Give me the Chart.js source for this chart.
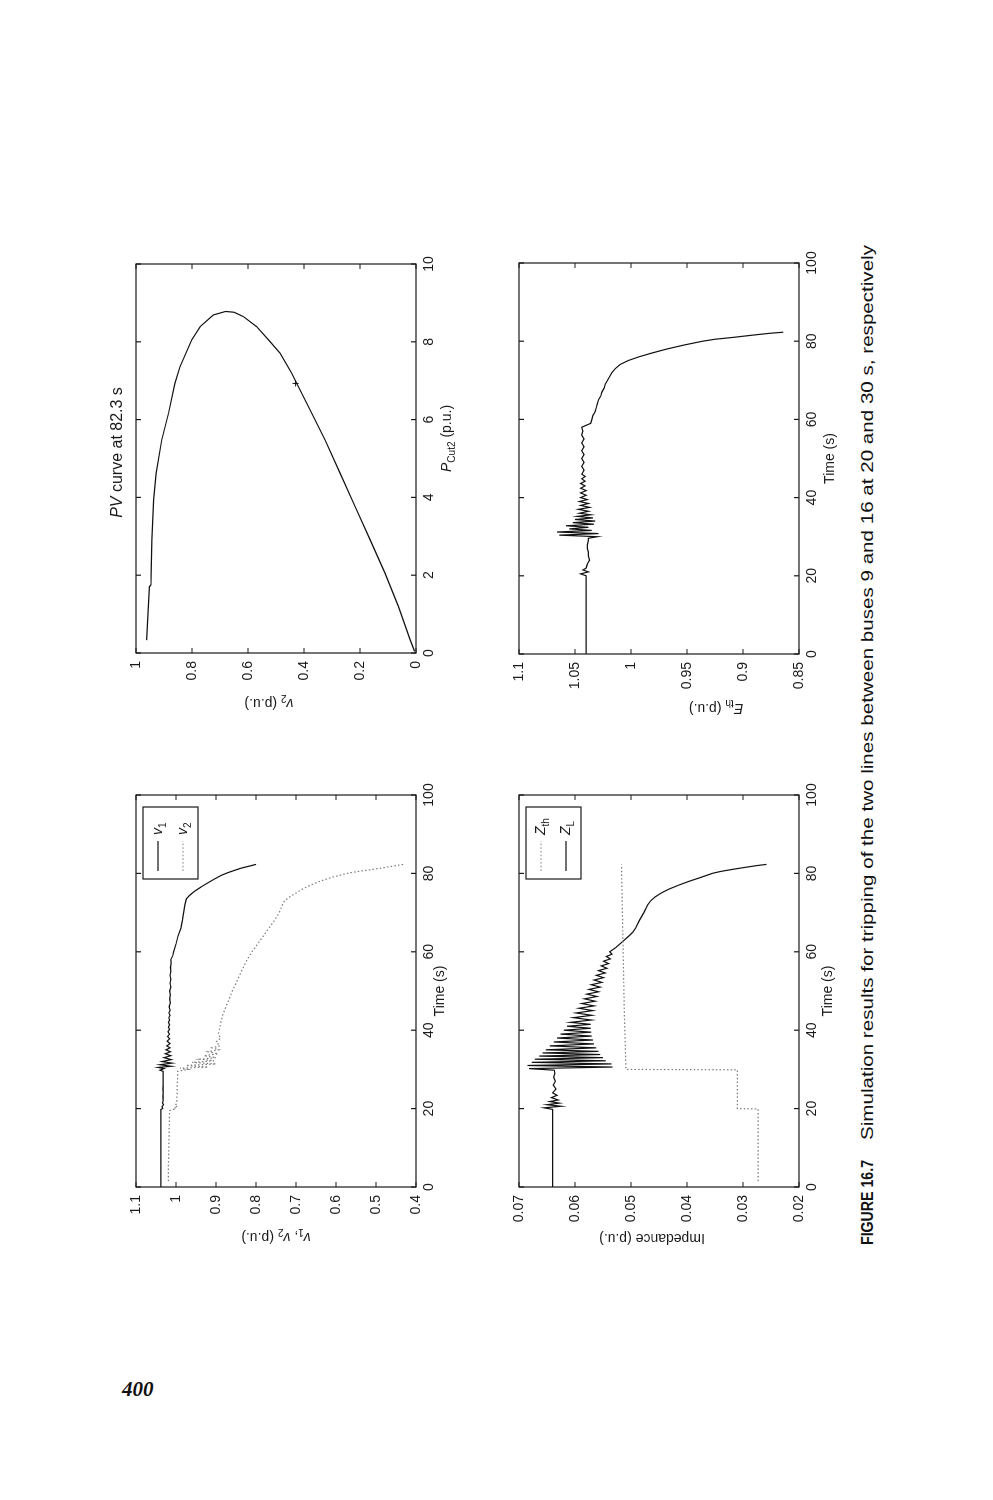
<!DOCTYPE html>
<html>
<head>
<meta charset="utf-8">
<script src="https://cdn.jsdelivr.net/npm/chart.js@4.4.0/dist/chart.umd.min.js"></script>
<style>
  html, body { margin: 0; padding: 0; background: #fff; width: 993px; height: 1500px; overflow: hidden; }
  /* the printed page is turned a quarter turn, so everything is laid out upright and then rotated */
  #page { position: absolute; left: 0; top: 0; width: 1500px; height: 993px;
          transform-origin: 0 0; transform: translate(0, 1500px) rotate(-90deg); }
  .plot { position: absolute; }
  .cap { position: absolute; top: 859px; white-space: nowrap; font-size: 17px; line-height: 17px; color: #111;
         font-family: "Liberation Sans", Arial, sans-serif; transform-origin: 0 50%; }
  #capLabel { left: 255px; font-weight: bold; }
  #capText { left: 360px; }
  #pageno { position: absolute; left: 122px; top: 1377px; font: italic bold 21px "Liberation Serif", serif; color: #111; }
</style>
</head>
<body>
<div id="page">
  <canvas id="chartV" class="plot" width="482" height="360" style="left:243px; top:106px"></canvas>
  <canvas id="chartPV" class="plot" width="479" height="360" style="left:777px; top:106px"></canvas>
  <canvas id="chartZ" class="plot" width="482" height="360" style="left:243px; top:489px"></canvas>
  <canvas id="chartE" class="plot" width="481" height="360" style="left:776px; top:489px"></canvas>
  <span id="capLabel" class="cap">FIGURE 16.7</span>
  <span id="capText" class="cap">Simulation results for tripping of the two lines between buses 9 and 16 at 20 and 30 s, respectively</span>
</div>
<div id="pageno">400</div>

<script>
// ---- data ----
// v1 and v2 against time
const v1Time = [0, 19.8, 20, 20.5, 21, 21.5, 22, 23, 24, 25,
  26, 28, 29.5, 29.8, 30.2, 30.5, 30.8, 31.2, 31.6, 32,
  32.5, 33, 33.5, 34, 34.5, 35, 35.5, 36, 36.6, 37.2,
  37.8, 38.4, 39, 39.6, 40.2, 40.8, 41.4, 42, 42.6, 43.2,
  43.8, 44.4, 45, 46, 47, 48, 49, 50, 51, 52,
  53, 54, 55, 56, 57, 58, 59, 60, 62, 64,
  66, 68, 70, 72, 73.5, 74.5, 75.5, 76.5, 77.5, 78.5,
  79.5, 80.2, 80.8, 81.4, 81.9, 82.3];
const v1Vals = [1.038, 1.038, 1.033, 1.035, 1.031, 1.034, 1.032, 1.033, 1.032, 1.033,
  1.032, 1.032, 1.032, 1.040, 1.030, 1.045, 1.012, 1.040, 1.010, 1.035,
  1.012, 1.030, 1.013, 1.027, 1.014, 1.025, 1.015, 1.023, 1.015, 1.022,
  1.016, 1.021, 1.016, 1.020, 1.016, 1.019, 1.016, 1.019, 1.016, 1.018,
  1.015, 1.018, 1.015, 1.017, 1.014, 1.016, 1.014, 1.016, 1.013, 1.015,
  1.013, 1.015, 1.013, 1.014, 1.012, 1.013, 1.008, 1.006, 1.000, 0.995,
  0.988, 0.984, 0.981, 0.978, 0.974, 0.965, 0.953, 0.938, 0.922, 0.905,
  0.887, 0.870, 0.853, 0.835, 0.815, 0.800];

const v2Time = [1.5, 5, 10, 15, 19.5, 20, 20.3, 20.6, 21, 22,
  24, 26, 28, 29.5, 30, 30.3, 30.6, 31, 31.4, 31.8,
  32.2, 32.6, 33, 33.5, 34, 34.5, 35, 35.5, 36, 37,
  38, 39, 40, 42, 44, 46, 48, 50, 52, 54,
  56, 58, 60, 62, 64, 66, 68, 70, 72, 73,
  74, 75, 76, 77, 78, 79, 80, 80.5, 81, 81.5,
  82, 82.3];
const v2Vals = [1.019, 1.019, 1.018, 1.017, 1.016, 1.000, 1.005, 0.996, 1.000, 0.998,
  0.997, 0.997, 0.996, 0.996, 0.970, 0.990, 0.920, 0.975, 0.900, 0.960,
  0.905, 0.940, 0.900, 0.930, 0.895, 0.920, 0.893, 0.910, 0.890, 0.900,
  0.888, 0.894, 0.892, 0.888, 0.883, 0.875, 0.867, 0.859, 0.850, 0.841,
  0.832, 0.822, 0.810, 0.796, 0.782, 0.768, 0.754, 0.742, 0.734, 0.729,
  0.716, 0.700, 0.684, 0.664, 0.640, 0.610, 0.573, 0.545, 0.510, 0.478,
  0.450, 0.432];

// PV curve at 82.3 s
const pvP = [0.33, 1.70, 1.75, 2.91, 3.94, 4.62, 5.48, 6.16, 6.93, 7.36,
  8.05, 8.39, 8.69, 8.78, 8.76, 8.65, 8.39, 8.05, 7.71, 7.19,
  6.93, 6.33, 5.48, 4.62, 3.77, 2.91, 2.06, 1.20, 0.34, 0.04];
const pvV = [0.962, 0.952, 0.947, 0.943, 0.937, 0.928, 0.908, 0.884, 0.861, 0.843,
  0.801, 0.771, 0.724, 0.680, 0.650, 0.617, 0.569, 0.527, 0.486, 0.444,
  0.426, 0.384, 0.325, 0.271, 0.218, 0.164, 0.111, 0.063, 0.021, 0.005];
const pvMarkP = [6.93];
const pvMarkV = [0.43];

// impedances
const zthTime = [1.5, 19.9, 20, 29.9, 30, 45, 60, 82.3];
const zthVals = [0.0273, 0.0273, 0.0310, 0.0310, 0.0509, 0.0512, 0.0514, 0.0517];

const zlTime = [0, 19.8, 20.2, 20.6, 21, 21.4, 21.8, 22.2, 22.8, 23.4,
  24, 25, 26, 27, 28, 29, 29.8, 30.2, 30.6, 31,
  31.4, 31.8, 32.2, 32.6, 33, 33.4, 33.8, 34.2, 34.6, 35,
  35.5, 36, 36.5, 37, 37.5, 38, 38.5, 39, 39.5, 40,
  40.5, 41, 41.5, 42, 42.6, 43.2, 43.8, 44.4, 45, 45.6,
  46.2, 46.8, 47.4, 48, 48.6, 49.2, 49.8, 50.4, 51, 51.6,
  52.2, 52.8, 53.4, 54, 54.6, 55.2, 55.8, 56.4, 57, 57.6,
  58.2, 58.8, 59.4, 60, 61, 62, 63, 64, 65, 66,
  68, 70, 72, 73, 74, 75, 76, 77, 78, 79,
  80, 80.5, 81, 81.5, 82, 82.3];
const zlVals = [0.0640, 0.0640, 0.0655, 0.0625, 0.0650, 0.0628, 0.0645, 0.0630, 0.0642, 0.0632,
  0.0640, 0.0634, 0.0639, 0.0635, 0.0638, 0.0636, 0.0637, 0.0682, 0.0533, 0.0685,
  0.0535, 0.0677, 0.0545, 0.0672, 0.0550, 0.0664, 0.0555, 0.0658, 0.0558, 0.0652,
  0.0562, 0.0645, 0.0566, 0.0638, 0.0568, 0.0632, 0.0570, 0.0626, 0.0571, 0.0620,
  0.0572, 0.0614, 0.0572, 0.0608, 0.0571, 0.0603, 0.0570, 0.0598, 0.0568, 0.0593,
  0.0566, 0.0588, 0.0564, 0.0583, 0.0561, 0.0579, 0.0558, 0.0575, 0.0555, 0.0571,
  0.0552, 0.0566, 0.0549, 0.0562, 0.0546, 0.0558, 0.0543, 0.0553, 0.0540, 0.0549,
  0.0537, 0.0544, 0.0534, 0.0538, 0.0528, 0.0520, 0.0512, 0.0504, 0.0497, 0.0492,
  0.0485, 0.0477, 0.0470, 0.0465, 0.0457, 0.0446, 0.0432, 0.0415, 0.0396, 0.0375,
  0.0355, 0.0340, 0.0320, 0.0298, 0.0275, 0.0258];

// Thevenin voltage
const ethTime = [0, 20, 20.5, 21, 21.5, 22, 23, 24, 25, 26,
  27, 28, 29, 29.6, 30, 30.4, 30.8, 31.2, 31.6, 32,
  32.4, 32.8, 33.2, 33.6, 34, 34.4, 34.8, 35.2, 35.6, 36,
  36.5, 37, 37.5, 38, 38.5, 39, 39.5, 40, 40.6, 41.2,
  41.8, 42.4, 43, 43.6, 44.2, 44.8, 45.4, 46, 47, 48,
  49, 50, 51, 52, 53, 54, 55, 56, 57, 58,
  58.5, 59, 60, 61, 62, 63, 64, 65, 66, 67,
  68, 69, 70, 71, 72, 73, 74, 75, 76, 77,
  78, 79, 80, 80.5, 81, 81.5, 82, 82.3];
const ethVals = [1.040, 1.040, 1.045, 1.038, 1.043, 1.040, 1.039, 1.037, 1.038, 1.038,
  1.039, 1.039, 1.038, 1.038, 1.030, 1.064, 1.029, 1.066, 1.035, 1.055,
  1.038, 1.058, 1.033, 1.052, 1.032, 1.050, 1.034, 1.048, 1.036, 1.046,
  1.038, 1.047, 1.037, 1.045, 1.038, 1.046, 1.039, 1.045, 1.040, 1.045,
  1.040, 1.045, 1.041, 1.045, 1.041, 1.044, 1.041, 1.044, 1.042, 1.044,
  1.042, 1.044, 1.042, 1.044, 1.042, 1.044, 1.042, 1.044, 1.043, 1.044,
  1.040, 1.036, 1.035, 1.034, 1.032, 1.031, 1.030, 1.029, 1.027, 1.026,
  1.024, 1.023, 1.021, 1.019, 1.017, 1.014, 1.010, 1.003, 0.993, 0.981,
  0.968, 0.953, 0.936, 0.925, 0.908, 0.893, 0.877, 0.864];

// ticks
const timeTicks = [0, 20, 40, 60, 80, 100];
const timeTickLabels = ['0', '20', '40', '60', '80', '100'];
const vTicks = [0.4, 0.5, 0.6, 0.7, 0.8, 0.9, 1, 1.1];
const vTickLabels = ['0.4', '0.5', '0.6', '0.7', '0.8', '0.9', '1', '1.1'];
const pTicks = [0, 2, 4, 6, 8, 10];
const pTickLabels = ['0', '2', '4', '6', '8', '10'];
const pvVTicks = [0, 0.2, 0.4, 0.6, 0.8, 1];
const pvVTickLabels = ['0', '0.2', '0.4', '0.6', '0.8', '1'];
const zTicks = [0.02, 0.03, 0.04, 0.05, 0.06, 0.07];
const zTickLabels = ['0.02', '0.03', '0.04', '0.05', '0.06', '0.07'];
const eTicks = [0.85, 0.9, 0.95, 1, 1.05, 1.1];
const eTickLabels = ['0.85', '0.9', '0.95', '1', '1.05', '1.1'];

// ---- helpers ----
const FONT = '"Liberation Sans", Arial, sans-serif';
const INK = '#1a1a1a';

function zip(xs, ys) {
  return xs.map((x, i) => ({ x: x, y: ys[i] }));
}

// draw text made of pieces, some italic, some subscript
function drawRich(ctx, segs, x, y, size, align, rot) {
  ctx.save();
  ctx.translate(x, y);
  if (rot) ctx.rotate(rot);
  let total = 0;
  const parts = segs.map(function (s) {
    const fs = s.sub ? size * 0.72 : size;
    const font = (s.i ? 'italic ' : '') + fs + 'px ' + FONT;
    ctx.font = font;
    const w = ctx.measureText(s.t).width;
    total += w;
    return { s: s, font: font, w: w };
  });
  let cx = align === 'left' ? 0 : -total / 2;
  ctx.textBaseline = 'middle';
  ctx.textAlign = 'left';
  ctx.fillStyle = INK;
  parts.forEach(function (p) {
    ctx.font = p.font;
    ctx.fillText(p.s.t, cx, p.s.sub ? size * 0.38 : 0);
    cx += p.w;
  });
  ctx.restore();
}

// box round the axes, inward ticks, axis titles and the legend
const matlabAxes = {
  id: 'matlabAxes',
  afterDatasetsDraw(chart, args, opts) {
    const ctx = chart.ctx;
    const a = chart.chartArea;
    const sx = chart.scales.x, sy = chart.scales.y;
    const L = 5;
    ctx.save();
    ctx.strokeStyle = INK;
    ctx.lineWidth = 1.2;
    ctx.strokeRect(a.left, a.top, a.right - a.left, a.bottom - a.top);
    ctx.beginPath();
    sx.ticks.forEach(function (t) {
      const px = sx.getPixelForValue(t.value);
      ctx.moveTo(px, a.bottom); ctx.lineTo(px, a.bottom - L);
      ctx.moveTo(px, a.top); ctx.lineTo(px, a.top + L);
    });
    sy.ticks.forEach(function (t) {
      const py = sy.getPixelForValue(t.value);
      ctx.moveTo(a.left, py); ctx.lineTo(a.left + L, py);
      ctx.moveTo(a.right, py); ctx.lineTo(a.right - L, py);
    });
    ctx.stroke();
    ctx.restore();

    const midX = (a.left + a.right) / 2, midY = (a.top + a.bottom) / 2;
    if (opts.xTitle) drawRich(ctx, opts.xTitle, midX + (opts.xShift || 0), a.bottom + opts.xGap, 14, 'center', 0);
    if (opts.yTitle) drawRich(ctx, opts.yTitle, a.left - opts.yGap, midY + (opts.yShift || 0), 14, 'center', -Math.PI / 2);
    if (opts.title) drawRich(ctx, opts.title, midX + (opts.titleShift || 0), a.top - 18, 16, 'center', 0);

    if (opts.legend) {
      const bw = 72, bh = 55;
      const bx = a.right - 12 - bw, by = a.top + 7;
      ctx.save();
      ctx.fillStyle = '#fff';
      ctx.fillRect(bx, by, bw, bh);
      ctx.strokeStyle = INK;
      ctx.lineWidth = 1.2;
      ctx.strokeRect(bx, by, bw, bh);
      opts.legend.forEach(function (lab, i) {
        const ds = chart.data.datasets[i];
        const ry = by + 15 + i * 25;
        ctx.beginPath();
        ctx.strokeStyle = ds.borderColor;
        ctx.lineWidth = ds.borderWidth;
        ctx.setLineDash(ds.borderDash || []);
        ctx.moveTo(bx + 8, ry); ctx.lineTo(bx + 38, ry);
        ctx.stroke();
        ctx.setLineDash([]);
        drawRich(ctx, lab, bx + 44, ry, 14, 'left', 0);
      });
      ctx.restore();
    }
  }
};

function axis(min, max, vals, labels, isX) {
  return {
    type: 'linear',
    min: min,
    max: max,
    afterBuildTicks: function (s) { s.ticks = vals.map(function (v) { return { value: v }; }); },
    afterFit: function (s) { if (isX) s.height = 40; else s.width = 60; },
    grid: { display: false, drawTicks: false },
    border: { display: false },
    ticks: {
      autoSkip: false,
      maxRotation: 0,
      padding: isX ? 5 : 8,
      color: INK,
      font: { family: FONT, size: 14 },
      callback: function (v, i) { return labels[i]; }
    }
  };
}

function solid(data) {
  return { data: data, borderColor: '#111', borderWidth: 1.2, pointRadius: 0, tension: 0, fill: false };
}
function dotted(data) {
  return { data: data, borderColor: '#7a7a7a', borderWidth: 1.2, borderDash: [1.5, 2.2], pointRadius: 0, tension: 0, fill: false };
}

function makeChart(id, datasets, xAxis, yAxis, axesOpts) {
  return new Chart(document.getElementById(id), {
    type: 'line',
    data: { datasets: datasets },
    options: {
      responsive: false,
      animation: false,
      devicePixelRatio: 1,
      layout: { padding: { left: 10, top: 30, right: 20, bottom: 10 } },
      scales: { x: xAxis, y: yAxis },
      plugins: { legend: { display: false }, tooltip: { enabled: false }, matlabAxes: axesOpts }
    },
    plugins: [matlabAxes]
  });
}

const timeTitle = [{ t: 'Time (s)' }];

// v1, v2
makeChart('chartV',
  [solid(zip(v1Time, v1Vals)), dotted(zip(v2Time, v2Vals))],
  axis(0, 100, timeTicks, timeTickLabels, true),
  axis(0.4, 1.1, vTicks, vTickLabels, false),
  {
    xTitle: timeTitle, xGap: 24,
    yTitle: [{ t: 'v', i: true }, { t: '1', sub: true }, { t: ', ' }, { t: 'v', i: true }, { t: '2', sub: true }, { t: ' (p.u.)' }],
    yGap: 50, yShift: 0,
    legend: [[{ t: 'v', i: true }, { t: '1', sub: true }], [{ t: 'v', i: true }, { t: '2', sub: true }]]
  });

// PV curve
const pvMark = zip(pvMarkP, pvMarkV);
makeChart('chartPV',
  [solid(zip(pvP, pvV)),
   { data: pvMark, showLine: false, pointStyle: 'cross', pointRadius: 3, borderColor: '#111', borderWidth: 1 }],
  axis(0, 10, pTicks, pTickLabels, true),
  axis(0, 1, pvVTicks, pvVTickLabels, false),
  {
    xTitle: [{ t: 'P', i: true }, { t: 'Cut2', sub: true }, { t: ' (p.u.)' }], xGap: 31, xShift: 20,
    yTitle: [{ t: 'v', i: true }, { t: '2', sub: true }, { t: ' (p.u.)' }], yGap: 50, yShift: -7,
    title: [{ t: 'PV', i: true }, { t: ' curve at 82.3 s' }], titleShift: 6
  });

// impedances
makeChart('chartZ',
  [dotted(zip(zthTime, zthVals)), solid(zip(zlTime, zlVals))],
  axis(0, 100, timeTicks, timeTickLabels, true),
  axis(0.02, 0.07, zTicks, zTickLabels, false),
  {
    xTitle: timeTitle, xGap: 29,
    yTitle: [{ t: 'Impedance (p.u.)' }], yGap: 51, yShift: -7,
    legend: [[{ t: 'Z', i: true }, { t: 'th', sub: true }], [{ t: 'Z', i: true }, { t: 'L', sub: true }]]
  });

// Thevenin voltage
makeChart('chartE',
  [solid(zip(ethTime, ethVals))],
  axis(0, 100, timeTicks, timeTickLabels, true),
  axis(0.85, 1.1, eTicks, eTickLabels, false),
  {
    xTitle: timeTitle, xGap: 31,
    yTitle: [{ t: 'E', i: true }, { t: 'th', sub: true }, { t: ' (p.u.)' }], yGap: 54, yShift: 57
  });

// fit the caption pieces to the printed widths
function fitWidth(id, w) {
  const el = document.getElementById(id);
  el.style.transform = 'scaleX(' + (w / el.offsetWidth) + ')';
}
fitWidth('capLabel', 85);
fitWidth('capText', 895);
</script>
</body>
</html>
